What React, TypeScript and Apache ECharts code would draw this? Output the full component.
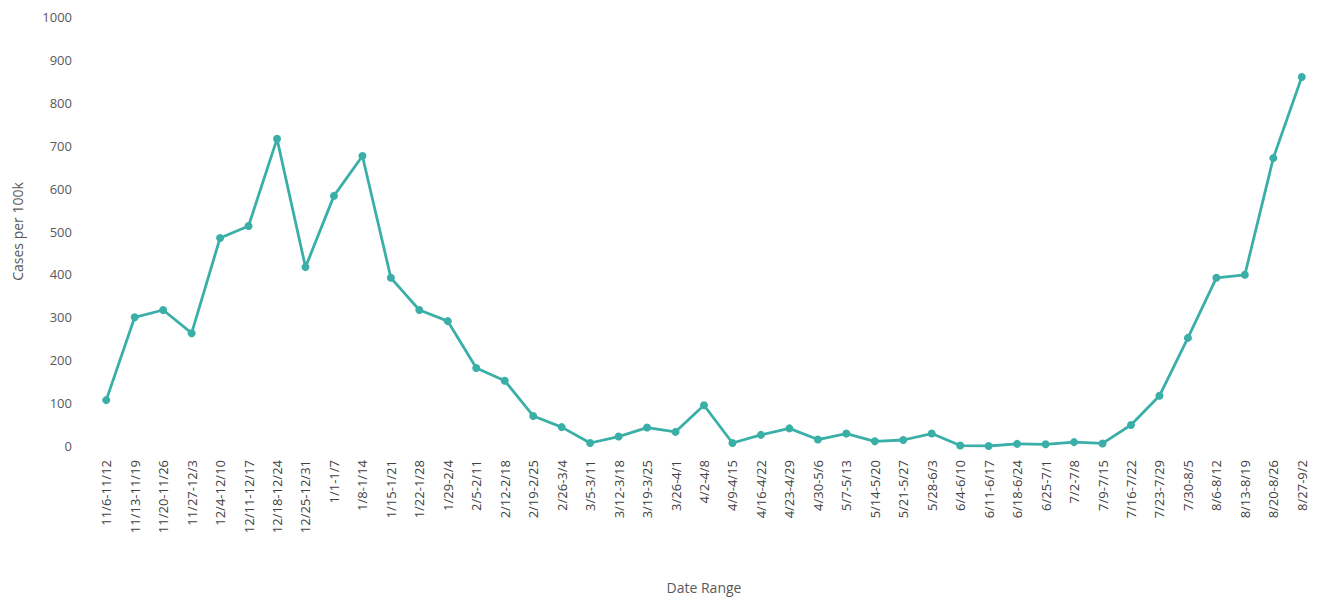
import React, { useEffect, useRef } from "react";
import * as echarts from "echarts";

const categories = [
  "11/6-11/12", "11/13-11/19", "11/20-11/26", "11/27-12/3", "12/4-12/10", "12/11-12/17",
  "12/18-12/24", "12/25-12/31", "1/1-1/7", "1/8-1/14", "1/15-1/21", "1/22-1/28", "1/29-2/4",
  "2/5-2/11", "2/12-2/18", "2/19-2/25", "2/26-3/4", "3/5-3/11", "3/12-3/18", "3/19-3/25",
  "3/26-4/1", "4/2-4/8", "4/9-4/15", "4/16-4/22", "4/23-4/29", "4/30-5/6", "5/7-5/13",
  "5/14-5/20", "5/21-5/27", "5/28-6/3", "6/4-6/10", "6/11-6/17", "6/18-6/24", "6/25-7/1",
  "7/2-7/8", "7/9-7/15", "7/16-7/22", "7/23-7/29", "7/30-8/5", "8/6-8/12", "8/13-8/19",
  "8/20-8/26", "8/27-9/2",
];

const casesPer100k = [
  107, 300, 317, 263, 485, 513, 716, 417, 583, 676, 392, 317, 291,
  182, 152, 70, 44, 7, 22, 43, 33, 95, 7, 26, 41, 15, 29,
  11, 14, 29, 1, 0, 5, 4, 9, 6, 49, 117, 252, 392, 399,
  671, 860,
];

const yTicks = { min: 0, max: 1000, interval: 100 };

export default function App() {
  const ref = useRef<HTMLDivElement>(null);
  useEffect(() => {
    if (!ref.current) return;
    const chart = echarts.init(ref.current, undefined, { renderer: "svg" });
    const font = "'Open Sans', 'Noto Sans', sans-serif";
    chart.setOption({
      animation: false,
      backgroundColor: "#ffffff",
      grid: { left: 92, right: 2, top: 17, bottom: 153 },
      xAxis: {
        type: "category",
        data: categories,
        boundaryGap: true,
        name: "Date Range",
        nameLocation: "middle",
        nameGap: 134,
        nameTextStyle: { color: "#595959", fontSize: 14, fontFamily: font },
        axisLine: { show: false },
        axisTick: { show: false },
        splitLine: { show: false },
        axisLabel: {
          interval: 0,
          rotate: 90,
          margin: 14,
          color: "#404040",
          fontSize: 13,
          fontFamily: font,
        },
      },
      yAxis: {
        type: "value",
        min: yTicks.min,
        max: yTicks.max,
        interval: yTicks.interval,
        name: "Cases per 100k",
        nameLocation: "middle",
        nameGap: 68,
        nameTextStyle: { color: "#595959", fontSize: 14, fontFamily: font },
        axisLine: { show: false },
        axisTick: { show: false },
        splitLine: { show: false },
        axisLabel: {
          color: "#595959",
          fontSize: 13,
          fontFamily: font,
          margin: 20,
          formatter: (v: number) => String(v),
        },
      },
      series: [
        {
          type: "line",
          data: casesPer100k,
          symbol: "circle",
          symbolSize: 8,
          lineStyle: { color: "#3AAFA7", width: 2.8 },
          itemStyle: { color: "#3AAFA7" },
        },
      ],
    });
    return () => chart.dispose();
  }, []);
  return (
    <div
      ref={ref}
      style={{ position: "fixed", left: 0, top: 0, width: 1318, height: 599 }}
    />
  );
}
